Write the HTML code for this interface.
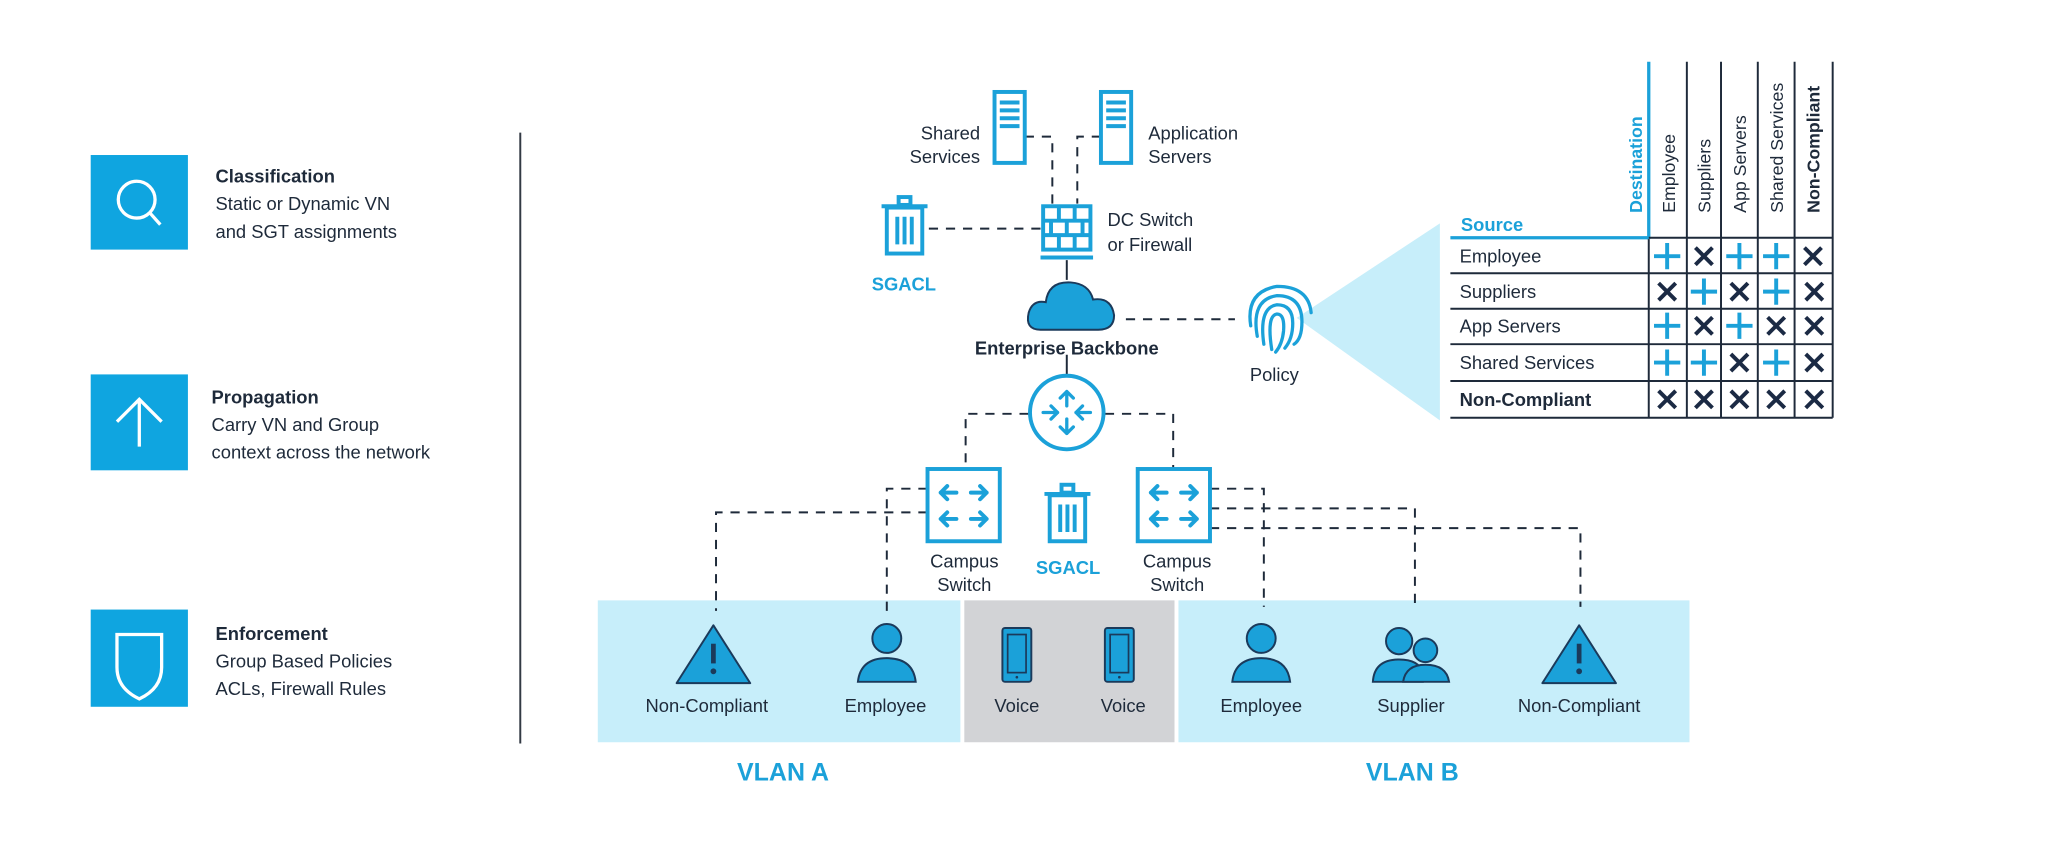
<!DOCTYPE html>
<html><head><meta charset="utf-8"><style>
html,body{margin:0;padding:0;background:#fff;}
svg{display:block;}
text{font-family:"Liberation Sans",sans-serif;fill:#1e2a3a;}
.b{font-weight:bold;}
.blue{fill:#1ba1d9;}
</style></head><body>
<svg width="2060" height="848" viewBox="0 0 1568 645.5" xmlns="http://www.w3.org/2000/svg">
<defs>
<g id="sw">
<rect x="0" y="0" width="55" height="55" fill="#fff" stroke="#1ba1d9" stroke-width="3"/>
<g stroke="#1ba1d9" stroke-width="3" fill="none" stroke-linecap="round" stroke-linejoin="round">
<path d="M10 18 H22 M15 13 L10 18 L15 23"/>
<path d="M33 18 H45 M40 13 L45 18 L40 23"/>
<path d="M10 38 H22 M15 33 L10 38 L15 43"/>
<path d="M33 38 H45 M40 33 L45 38 L40 43"/>
</g></g>
<g id="trash" fill="none" stroke="#1ba1d9" stroke-width="3">
<rect x="13" y="0" width="9" height="6"/>
<path d="M0 7 H35"/>
<rect x="4" y="8" width="27" height="35"/>
<path d="M12 15 V36 M17.5 15 V36 M23 15 V36"/>
</g>
<g id="server" fill="#fff" stroke="#1ba1d9" stroke-width="3">
<rect x="0" y="0" width="23" height="54"/>
<path d="M4 8 H19 M4 14 H19 M4 20 H19 M4 26 H19"/>
</g>
<g id="person" stroke="#1b3a5b" stroke-width="1.5" fill="#1ba1d9">
<circle cx="0" cy="-12" r="11"/>
<path d="M-22 21 Q-20 3 0 3 Q20 3 22 21 Z"/>
</g>
<g id="warn">
<path d="M0 0 L28 44 L-28 44 Z" fill="#1ba1d9" stroke="#1b3a5b" stroke-width="1.5" stroke-linejoin="round"/>
<rect x="-1.8" y="14" width="3.6" height="15" fill="#1b3a5b"/>
<circle cx="0" cy="35" r="2.2" fill="#1b3a5b"/>
</g>
<g id="phone">
<rect x="-11" y="0" width="22" height="41" rx="2" fill="#1ba1d9" stroke="#1b3a5b" stroke-width="1.5"/>
<rect x="-7" y="5" width="14" height="29" fill="#1ba1d9" stroke="#1b3a5b" stroke-width="1.3"/>
<circle cx="0" cy="37.5" r="1" fill="#1b3a5b"/>
</g>
<g id="plus" stroke="#1ba1d9" stroke-width="3"><path d="M-10 0 H10 M0 -10 V10"/></g>
<g id="x" stroke="#1b2a44" stroke-width="3"><path d="M-6.5 -6.5 L6.5 6.5 M6.5 -6.5 L-6.5 6.5"/></g>
</defs>

<!-- Left panel -->
<rect x="69" y="118" width="74" height="72" fill="#0fa5e0"/>
<circle cx="104" cy="152" r="14" fill="none" stroke="#fff" stroke-width="2.5"/>
<path d="M114 162 L122 171" stroke="#fff" stroke-width="2.5"/>
<text x="164" y="139" font-size="14" class="b">Classification</text>
<text x="164" y="160" font-size="14">Static or Dynamic VN</text>
<text x="164" y="181" font-size="14">and SGT assignments</text>

<rect x="69" y="285" width="74" height="73" fill="#0fa5e0"/>
<path d="M106 305 V340 M89 321 L106 304 L123 321" stroke="#fff" stroke-width="2.5" fill="none"/>
<text x="161" y="307" font-size="14" class="b">Propagation</text>
<text x="161" y="328" font-size="14">Carry VN and Group</text>
<text x="161" y="349" font-size="14">context across the network</text>

<rect x="69" y="464" width="74" height="74" fill="#0fa5e0"/>
<path d="M89 483 H123 V508 Q123 524 106 532 Q89 524 89 508 Z" stroke="#fff" stroke-width="2.5" fill="none"/>
<text x="164" y="487" font-size="14" class="b">Enforcement</text>
<text x="164" y="508" font-size="14">Group Based Policies</text>
<text x="164" y="529" font-size="14">ACLs, Firewall Rules</text>

<line x1="396" y1="101" x2="396" y2="566" stroke="#333a44" stroke-width="1.5"/>

<!-- VLAN areas -->
<rect x="455" y="457" width="276" height="108" fill="#c7eefa"/>
<rect x="734" y="457" width="160" height="108" fill="#d2d3d6"/>
<rect x="897" y="457" width="389" height="108" fill="#c7eefa"/>
<text x="596" y="594" font-size="19" text-anchor="middle" class="b blue" style="fill:#1ba1d9">VLAN A</text>
<text x="1075" y="594" font-size="19" text-anchor="middle" class="b" style="fill:#1ba1d9">VLAN B</text>

<!-- Dashed connectors -->
<g fill="none" stroke="#1e2a3a" stroke-width="1.5" stroke-dasharray="7,6">
<path d="M780 104 H801 V155"/>
<path d="M838 104 H820 V155"/>
<path d="M707 174 H793"/>
<path d="M857 243 H940"/>
<path d="M783 315 H735 V357"/>
<path d="M841 315 H893 V357"/>
<path d="M706 372 H675 V468"/>
<path d="M706 390 H545 V465"/>
<path d="M921 372 H962 V462"/>
<path d="M921 387 H1077 V462"/>
<path d="M921 402 H1203 V462"/>
</g>
<path d="M812 198 V213 M812 270 V285" stroke="#1e2a3a" stroke-width="1.5"/>

<!-- Servers -->
<use href="#server" x="757" y="70"/>
<use href="#server" x="838" y="70"/>
<text x="746" y="106" font-size="14" text-anchor="end">Shared</text>
<text x="746" y="124" font-size="14" text-anchor="end">Services</text>
<text x="874" y="106" font-size="14">Application</text>
<text x="874" y="124" font-size="14">Servers</text>

<!-- Firewall -->
<g fill="none" stroke="#1ba1d9" stroke-width="3">
<rect x="794" y="157" width="36" height="33" fill="#fff"/>
<path d="M794 168 H830 M794 179 H830 M806 157 V168 M818 157 V168 M800 168 V179 M812 168 V179 M824 168 V179 M806 179 V190 M818 179 V190"/>
<path d="M792 196 H832"/>
</g>
<text x="843" y="172" font-size="14">DC Switch</text>
<text x="843" y="191" font-size="14">or Firewall</text>

<use href="#trash" x="671" y="150"/>
<text x="688" y="221" font-size="14" text-anchor="middle" class="b" style="fill:#1ba1d9">SGACL</text>

<!-- Cloud -->
<path d="M792 251 Q780 251 783 238 Q786 228 796 230 Q798 214 815 215 Q829 216 832 228 Q846 226 848 240 Q848 251 836 251 Z" fill="#1ba1d9" stroke="#1b3a5b" stroke-width="1.5"/>
<text x="812" y="270" font-size="14" text-anchor="middle" class="b">Enterprise Backbone</text>

<!-- Policy -->
<path d="M987 242 L1096 170 L1096 320 Z" fill="#c7eefa"/>
<g fill="none" stroke="#1ba1d9" stroke-width="2.5" stroke-linecap="round">
<path d="M952 248 Q948 222 972 218 Q996 218 998 238"/>
<path d="M957 256 Q952 228 972 225 Q991 225 991 245 Q991 258 985 262"/>
<path d="M962 262 Q958 234 972 232 Q984 232 984 246 Q984 258 978 265"/>
<path d="M968 266 Q964 240 972 239 Q978 239 977 252 Q976 262 971 268"/>
</g>
<text x="970" y="290" font-size="14" text-anchor="middle">Policy</text>

<!-- Router -->
<circle cx="812" cy="314" r="28" fill="#fff" stroke="#1ba1d9" stroke-width="3"/>
<g stroke="#1ba1d9" stroke-width="2.5" fill="none" stroke-linecap="round" stroke-linejoin="round">
<path d="M812 298 V309 M807 303 L812 298 L817 303"/>
<path d="M812 319 V330 M807 325 L812 330 L817 325"/>
<path d="M794 314 H805 M800 309 L805 314 L800 319"/>
<path d="M819 314 H830 M824 309 L819 314 L824 319"/>
</g>

<!-- Campus switches -->
<use href="#sw" x="706" y="357"/>
<use href="#sw" x="866" y="357"/>
<text x="734" y="432" font-size="14" text-anchor="middle">Campus</text>
<text x="734" y="450" font-size="14" text-anchor="middle">Switch</text>
<text x="896" y="432" font-size="14" text-anchor="middle">Campus</text>
<text x="896" y="450" font-size="14" text-anchor="middle">Switch</text>
<use href="#trash" x="795" y="369"/>
<text x="813" y="437" font-size="14" text-anchor="middle" class="b" style="fill:#1ba1d9">SGACL</text>

<!-- Endpoints -->
<use href="#warn" x="543" y="476"/>
<text x="538" y="542" font-size="14" text-anchor="middle">Non-Compliant</text>
<use href="#person" x="675" y="498"/>
<text x="674" y="542" font-size="14" text-anchor="middle">Employee</text>
<use href="#phone" x="774" y="478"/>
<text x="774" y="542" font-size="14" text-anchor="middle">Voice</text>
<use href="#phone" x="852" y="478"/>
<text x="855" y="542" font-size="14" text-anchor="middle">Voice</text>
<use href="#person" x="960" y="498"/>
<text x="960" y="542" font-size="14" text-anchor="middle">Employee</text>
<g stroke="#1b3a5b" stroke-width="1.5" fill="#1ba1d9">
<circle cx="1065" cy="488" r="10"/>
<path d="M1045 519 Q1046 502 1065 502 Q1080 502 1083 512 L1083 519 Z"/>
<circle cx="1085" cy="495" r="9"/>
<path d="M1068 519 Q1070 506 1085 506 Q1101 506 1103 519 Z"/>
</g>
<text x="1074" y="542" font-size="14" text-anchor="middle">Supplier</text>
<use href="#warn" x="1202" y="476"/>
<text x="1202" y="542" font-size="14" text-anchor="middle">Non-Compliant</text>

<!-- Table -->
<text x="1112" y="176" font-size="14" class="b" style="fill:#1ba1d9">Source</text>
<line x1="1104" y1="181" x2="1255" y2="181" stroke="#1ba1d9" stroke-width="2.5"/>
<line x1="1255" y1="47" x2="1255" y2="182" stroke="#1ba1d9" stroke-width="2.5"/>
<text transform="translate(1250,162) rotate(-90)" font-size="13.5" class="b" style="fill:#1ba1d9">Destination</text>
<g stroke="#1e2a3a" stroke-width="1.5">
<line x1="1255" y1="182" x2="1255" y2="318"/>
<line x1="1284" y1="47" x2="1284" y2="318"/>
<line x1="1310" y1="47" x2="1310" y2="318"/>
<line x1="1338" y1="47" x2="1338" y2="318"/>
<line x1="1366" y1="47" x2="1366" y2="318"/>
<line x1="1395" y1="47" x2="1395" y2="318"/>
<line x1="1255" y1="181" x2="1395" y2="181"/>
<line x1="1104" y1="208" x2="1395" y2="208"/>
<line x1="1104" y1="235" x2="1395" y2="235"/>
<line x1="1104" y1="262" x2="1395" y2="262"/>
<line x1="1104" y1="290" x2="1395" y2="290"/>
<line x1="1104" y1="318" x2="1395" y2="318"/>
</g>
<text transform="translate(1275,162) rotate(-90)" font-size="13.5">Employee</text>
<text transform="translate(1302,162) rotate(-90)" font-size="13.5">Suppliers</text>
<text transform="translate(1329,162) rotate(-90)" font-size="13.5">App Servers</text>
<text transform="translate(1357,162) rotate(-90)" font-size="13.5">Shared Services</text>
<text transform="translate(1385,162) rotate(-90)" font-size="13.5" class="b">Non-Compliant</text>
<text x="1111" y="200" font-size="14">Employee</text>
<text x="1111" y="227" font-size="14">Suppliers</text>
<text x="1111" y="253" font-size="14">App Servers</text>
<text x="1111" y="281" font-size="14">Shared Services</text>
<text x="1111" y="309" font-size="14" class="b">Non-Compliant</text>

<use href="#plus" x="1269" y="195"/><use href="#x" x="1297" y="195"/><use href="#plus" x="1324" y="195"/><use href="#plus" x="1352" y="195"/><use href="#x" x="1380" y="195"/>
<use href="#x" x="1269" y="222"/><use href="#plus" x="1297" y="222"/><use href="#x" x="1324" y="222"/><use href="#plus" x="1352" y="222"/><use href="#x" x="1381" y="222"/>
<use href="#plus" x="1269" y="248"/><use href="#x" x="1297" y="248"/><use href="#plus" x="1324" y="248"/><use href="#x" x="1352" y="248"/><use href="#x" x="1381" y="248"/>
<use href="#plus" x="1269" y="276"/><use href="#plus" x="1297" y="276"/><use href="#x" x="1324" y="276"/><use href="#plus" x="1352" y="276"/><use href="#x" x="1381" y="276"/>
<use href="#x" x="1269" y="304"/><use href="#x" x="1297" y="304"/><use href="#x" x="1324" y="304"/><use href="#x" x="1352" y="304"/><use href="#x" x="1381" y="304"/>
</svg>
</body></html>
